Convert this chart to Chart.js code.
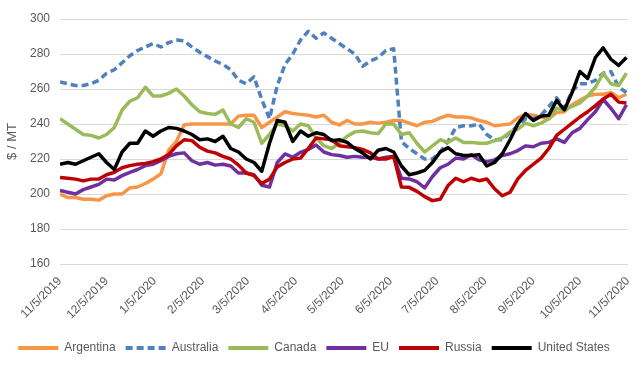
<!DOCTYPE html>
<html>
<head>
<meta charset="utf-8">
<script src="https://cdn.jsdelivr.net/npm/chart.js@4.4.0/dist/chart.umd.min.js"></script>
<style>
    html, body { margin: 0; padding: 0; background: #fff; }
    #wrap { width: 642px; height: 370px; }
</style>
</head>
<body>
<div id="wrap"><canvas id="graficoPrecos"></canvas></div>
<script>
// dias desde 11/5/2019
const dias = [0, 5, 10, 15, 20, 25, 30, 35, 40, 45, 50, 55, 60, 65, 70, 75, 80, 85, 90, 95,
    100, 105, 110, 115, 120, 125, 130, 135, 140, 145, 150, 155, 160, 165, 170, 175, 180, 185, 190, 195,
    200, 205, 210, 215, 220, 225, 230, 235, 240, 245, 250, 255, 260, 265, 270, 275, 280, 285, 290, 295,
    300, 305, 310, 315, 320, 325, 330, 335, 340, 345, 350, 355, 360, 365];

// marcas do eixo X
const diasMarcas = [0, 30, 61, 92, 121, 152, 182, 213, 243, 274, 305, 335, 366];
const rotulosMarcas = ['11/5/2019', '12/5/2019', '1/5/2020', '2/5/2020', '3/5/2020', '4/5/2020', '5/5/2020',
    '6/5/2020', '7/5/2020', '8/5/2020', '9/5/2020', '10/5/2020', '11/5/2020'];

const argentina = [200, 198, 198, 197, 197, 196.5, 199, 200, 200, 203.5, 204, 206, 208.5,
    211.5, 225, 230, 239.5, 240, 240, 240, 240, 240, 240, 244.5, 245,
    245, 238, 241, 244, 247, 246, 245.5, 245, 244, 245, 241, 239.5, 242,
    240, 240, 241, 240.5, 241, 242, 242, 240.5, 239, 241, 241.5, 243.5,
    245, 244, 244, 243.5, 242, 241, 239, 239.5, 240, 243.5, 245.5, 245,
    244, 243, 246.5, 247, 251, 253.5, 256, 257, 257, 258, 255, 257];

const australia = [264, 263, 262, 262, 263, 265, 269, 271, 275, 279, 282, 284, 286,
    284, 286.5, 288, 287.5, 284, 281, 278.5, 276, 274, 271, 265, 263,
    267, 254, 243, 262, 274, 280, 288, 293, 289, 292, 289, 286, 283,
    280, 273, 276, 278, 282, 283, 230, 226, 223, 220, 220, 224,
    230, 238, 239, 239, 240, 234, 231, 231, 235, 239, 243, 243,
    245, 250, 255, 249, 259, 263, 263, 265, 269, 270, 261, 258];

const canada = [243, 240, 237, 234, 233.5, 232, 234, 238, 248, 253, 255, 261, 256,
    256, 257.5, 260, 256, 251, 247, 246, 245.5, 248, 240, 238, 243,
    241, 229, 234, 240, 239, 236, 240, 239, 232, 227.6, 226, 229, 233,
    235.5, 236, 235, 234.5, 240, 240, 234, 235, 229, 224, 227.5, 231,
    229.5, 232, 229.5, 229.5, 229, 229, 230.5, 232, 235.5, 237, 240.5, 239,
    240.5, 243, 249, 248, 250, 252, 256, 261, 269, 263, 262, 269];

const eu = [202, 201, 200, 202.5, 204, 205.5, 208.5, 208, 210.5, 212.4, 214, 216.2, 217,
    219, 221.5, 223, 223.5, 219, 217, 218, 216.5, 217, 216, 212, 212,
    211, 205, 204, 218, 222.9, 221, 223.8, 225.5, 228, 224, 222.5, 222, 221,
    221.5, 221, 221, 220, 221, 221.5, 209, 208.6, 207, 203.5, 210, 215,
    217, 220.5, 220, 222.5, 219.5, 218.5, 219.5, 222, 223, 224.8, 227.5, 227,
    229, 229.5, 231.5, 229.5, 235, 237.5, 242.5, 247, 254, 249, 243, 251];

const russia = [209.5, 209, 208.5, 207.5, 208.5, 208.6, 211, 212.4, 215, 216.2, 217, 217.5, 218.5,
    220, 222.5, 227.5, 231, 230.5, 226.7, 224.5, 223.5, 221.5, 220, 216.5, 212,
    210.5, 206, 208.5, 215.5, 218, 220, 220.5, 226, 232, 231.5, 231, 227.6, 227,
    226.5, 225.5, 223.5, 220, 220, 221.5, 204, 203.8, 201.5, 198.5, 196.2, 197,
    204.8, 209, 207, 209, 207.6, 208.6, 203, 199, 201, 208.6, 213.5, 217,
    220.5, 226, 233.5, 237, 240.5, 244, 247, 250.5, 254.3, 257, 252.5, 252];

const estadosUnidos = [217, 218, 217, 219, 221, 223, 218, 214, 224, 229, 229, 236, 233,
    236, 238, 237.5, 236, 234, 231, 231.5, 230, 233, 226, 224, 220,
    218, 213, 229, 242, 241, 230, 236, 233, 235, 234, 230.5, 231, 229.5,
    226, 223.5, 220, 225, 226, 224, 216, 211, 212, 213.5, 218, 224,
    226.5, 223, 222, 222, 222.5, 216, 218, 223, 231, 240, 246, 242,
    244.5, 245, 253.5, 248, 258, 270, 266, 278, 283.5, 277, 273.5, 278];

document.addEventListener('DOMContentLoaded', () => {

    const corTexto = '#595959';
    const corGrade = '#d9d9d9';
    const fonte = 'Liberation Sans, Arial, sans-serif';
    const tracoAustralia = [7, 4];

    const pontos = (serie) => serie.map((v, i) => ({ x: dias[i], y: v }));

    const serie = (nome, valores, cor, tracejado) => ({
        label: nome,
        data: pontos(valores),
        borderColor: cor,
        backgroundColor: cor,
        borderWidth: 3.5,
        borderDash: tracejado ? tracoAustralia : [],
        borderCapStyle: 'butt',
        borderJoinStyle: 'round',
        pointRadius: 0,
        tension: 0,
        fill: false
    });

    // ordem invertida: o primeiro dataset fica por cima
    const datasets = [
        serie('United States', estadosUnidos, '#000000'),
        serie('Russia', russia, '#c00000'),
        serie('EU', eu, '#7030a0'),
        serie('Canada', canada, '#9bbb59'),
        serie('Australia', australia, '#4f81bd', true),
        serie('Argentina', argentina, '#f79646')
    ];

    new Chart(document.getElementById('graficoPrecos'), {
        type: 'line',
        data: { datasets },
        options: {
            responsive: true,
            maintainAspectRatio: false,
            animation: false,
            layout: { padding: { top: 19, right: 14, bottom: 6, left: 0 } },
            scales: {
                x: {
                    type: 'linear',
                    min: 0,
                    max: 366,
                    grid: { display: false },
                    border: { display: false },
                    afterBuildTicks: (eixo) => {
                        eixo.ticks = diasMarcas.map(v => ({ value: v }));
                    },
                    afterFit: (eixo) => { eixo.height = 68; },
                    ticks: {
                        autoSkip: false,
                        minRotation: 45,
                        maxRotation: 45,
                        padding: 2,
                        color: corTexto,
                        font: { family: fonte, size: 12 },
                        callback: (valor) => rotulosMarcas[diasMarcas.indexOf(valor)]
                    }
                },
                y: {
                    min: 160,
                    max: 300,
                    afterFit: (eixo) => { eixo.width = 60; },
                    grid: { color: corGrade, lineWidth: 1, drawTicks: false },
                    border: { display: false },
                    ticks: {
                        stepSize: 20,
                        padding: 10,
                        color: corTexto,
                        font: { family: fonte, size: 12 }
                    },
                    title: {
                        display: true,
                        text: '$ / MT',
                        color: corTexto,
                        font: { family: fonte, size: 13 },
                        padding: { top: 5, bottom: 0 }
                    }
                }
            },
            plugins: {
                legend: {
                    position: 'bottom',
                    reverse: true,
                    labels: {
                        usePointStyle: true,
                        pointStyle: 'line',
                        pointStyleWidth: 40,
                        boxHeight: 12,
                        padding: 10,
                        color: corTexto,
                        font: { family: fonte, size: 12 },
                        // mantém o tracejado e a espessura das linhas na legenda
                        generateLabels: (chart) => {
                            const itens = Chart.defaults.plugins.legend.labels.generateLabels(chart);
                            itens.forEach(item => {
                                const ds = chart.data.datasets[item.datasetIndex];
                                item.lineDash = ds.borderDash;
                                item.lineCap = ds.borderCapStyle;
                                item.lineWidth = 4;
                            });
                            return itens;
                        }
                    }
                },
                tooltip: { enabled: false }
            }
        }
    });
});
</script>
</body>
</html>
